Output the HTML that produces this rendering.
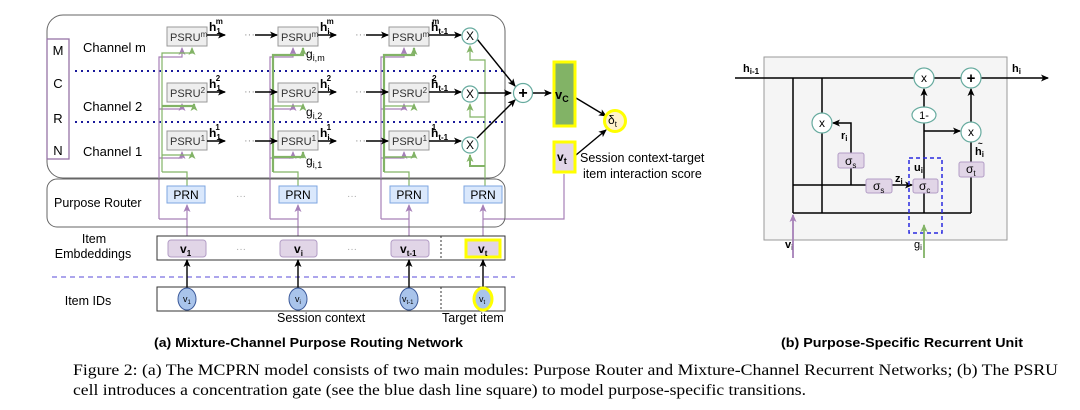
<!DOCTYPE html>
<html><head><meta charset="utf-8"><style>
html,body{margin:0;padding:0;background:#fff;}
svg{display:block;font-family:"Liberation Sans",sans-serif;}
</style></head><body>
<svg width="1080" height="410" viewBox="0 0 1080 410" xmlns="http://www.w3.org/2000/svg">
<defs>
<marker id="ak" markerWidth="8" markerHeight="8" refX="7" refY="4" orient="auto" markerUnits="userSpaceOnUse"><path d="M0,0.5 L8,4 L0,7.5 L2,4z" fill="#000"/></marker>
<marker id="ap" markerWidth="8" markerHeight="8" refX="7" refY="4" orient="auto" markerUnits="userSpaceOnUse"><path d="M0,0.5 L8,4 L0,7.5 L2,4z" fill="#a680b8"/></marker>
<marker id="ag" markerWidth="8" markerHeight="8" refX="7" refY="4" orient="auto" markerUnits="userSpaceOnUse"><path d="M0,0.5 L8,4 L0,7.5 L2,4z" fill="#82b366"/></marker>
</defs>

<!-- (a) main box -->
<rect x="47" y="15" width="458" height="163" rx="16" fill="#fff" stroke="#666" stroke-width="1"/>
<rect x="47" y="39" width="22" height="120" fill="#fff" stroke="#9673a6" stroke-width="1.3"/>
<g font-size="13" text-anchor="middle"><text x="58" y="55">M</text><text x="58" y="88">C</text><text x="58" y="123">R</text><text x="58" y="155">N</text></g>
<g font-size="13"><text x="83" y="52">Channel m</text><text x="83" y="111">Channel 2</text><text x="83" y="156">Channel 1</text></g>
<line x1="75" y1="71" x2="505" y2="71" stroke="#1a1a9a" stroke-width="2" stroke-dasharray="2,4"/>
<line x1="75" y1="122" x2="505" y2="122" stroke="#1a1a9a" stroke-width="2" stroke-dasharray="2,4"/>

<!-- vertical feed lines -->
<g fill="none" stroke-width="1.2">
 <!-- col1 -->
 <path d="M159,219 V57 H182 V48" stroke="#a680b8" marker-end="url(#ap)"/>
 <path d="M159,109 H182 V104" stroke="#a680b8" marker-end="url(#ap)"/>
 <path d="M159,158 H182 V152" stroke="#a680b8" marker-end="url(#ap)"/>
 <path d="M162,172 V53 H192 V48" stroke="#82b366" marker-end="url(#ag)"/>
 <path d="M162,106 H194 V104" stroke="#82b366" stroke-width="2.2" marker-end="url(#ag)"/>
 <path d="M162,155 H192 V152" stroke="#82b366" marker-end="url(#ag)"/>
 <path d="M187,186 V172 H162" stroke="#82b366"/>
 <!-- col2 -->
 <path d="M270,219 V57 H293 V48" stroke="#a680b8" marker-end="url(#ap)"/>
 <path d="M270,109 H293 V104" stroke="#a680b8" marker-end="url(#ap)"/>
 <path d="M270,158 H293 V152" stroke="#a680b8" marker-end="url(#ap)"/>
 <path d="M273,172 V55 H303 V48" stroke="#82b366" stroke-width="2.2" marker-end="url(#ag)"/>
 <path d="M273,106 H303 V104" stroke="#82b366" marker-end="url(#ag)"/>
 <path d="M273,157 H303 V152" stroke="#82b366" stroke-width="2.2" marker-end="url(#ag)"/>
 <path d="M298,186 V172 H273" stroke="#82b366"/>
 <!-- col3 -->
 <path d="M381,219 V57 H404 V48" stroke="#a680b8" marker-end="url(#ap)"/>
 <path d="M381,109 H404 V104" stroke="#a680b8" marker-end="url(#ap)"/>
 <path d="M381,158 H404 V152" stroke="#a680b8" marker-end="url(#ap)"/>
 <path d="M384,172 V55 H414 V48" stroke="#82b366" stroke-width="2.2" marker-end="url(#ag)"/>
 <path d="M384,106 H414 V104" stroke="#82b366" marker-end="url(#ag)"/>
 <path d="M384,157 H414 V152" stroke="#82b366" stroke-width="1.6" marker-end="url(#ag)"/>
 <path d="M409,186 V172 H384" stroke="#82b366"/>
 <!-- col4 -->
 <path d="M485,186 V60 H470 V46" stroke="#82b366" marker-end="url(#ag)"/>
 <path d="M485,117 H470 V104" stroke="#82b366" marker-end="url(#ag)"/>
 <path d="M485,166 H470 V155" stroke="#82b366" stroke-width="2" marker-end="url(#ag)"/>
 <!-- purple from embeddings -->
 <path d="M187,240 V205" stroke="#a680b8" marker-end="url(#ap)"/>
 <path d="M187,219 H159" stroke="#a680b8"/>
 <path d="M298,240 V205" stroke="#a680b8" marker-end="url(#ap)"/>
 <path d="M298,219 H270" stroke="#a680b8"/>
 <path d="M409,240 V205" stroke="#a680b8" marker-end="url(#ap)"/>
 <path d="M409,219 H381" stroke="#a680b8"/>
 <path d="M483,240 V205" stroke="#a680b8" marker-end="url(#ap)"/>
 <path d="M483,219 H564 V174" stroke="#a680b8"/>
</g>

<!-- PSRU boxes -->
<g fill="#eeeeee" stroke="#999" stroke-width="1">
 <rect x="167" y="27" width="40" height="19"/><rect x="278" y="27" width="40" height="19"/><rect x="389" y="27" width="40" height="19"/>
 <rect x="167" y="83" width="40" height="19"/><rect x="278" y="83" width="40" height="19"/><rect x="389" y="83" width="40" height="19"/>
 <rect x="167" y="131" width="40" height="19"/><rect x="278" y="131" width="40" height="19"/><rect x="389" y="131" width="40" height="19"/>
</g>
<g font-size="11" fill="#333">
 <text x="170" y="41">PSRU<tspan font-size="8" dy="-4">m</tspan></text>
 <text x="281" y="41">PSRU<tspan font-size="8" dy="-4">m</tspan></text>
 <text x="392" y="41">PSRU<tspan font-size="8" dy="-4">m</tspan></text>
 <text x="170" y="97">PSRU<tspan font-size="8" dy="-4">2</tspan></text>
 <text x="281" y="97">PSRU<tspan font-size="8" dy="-4">2</tspan></text>
 <text x="392" y="97">PSRU<tspan font-size="8" dy="-4">2</tspan></text>
 <text x="170" y="145">PSRU<tspan font-size="8" dy="-4">1</tspan></text>
 <text x="281" y="145">PSRU<tspan font-size="8" dy="-4">1</tspan></text>
 <text x="392" y="145">PSRU<tspan font-size="8" dy="-4">1</tspan></text>
</g>

<!-- horizontal arrows -->
<g stroke="#000" stroke-width="1.4" fill="none">
 <line x1="207" y1="35" x2="225" y2="35" marker-end="url(#ak)"/><line x1="255" y1="35" x2="277" y2="35" marker-end="url(#ak)"/>
 <line x1="318" y1="35" x2="336" y2="35" marker-end="url(#ak)"/><line x1="366" y1="35" x2="388" y2="35" marker-end="url(#ak)"/>
 <line x1="429" y1="35" x2="461" y2="35" marker-end="url(#ak)"/>
 <line x1="207" y1="92" x2="225" y2="92" marker-end="url(#ak)"/><line x1="255" y1="92" x2="277" y2="92" marker-end="url(#ak)"/>
 <line x1="318" y1="92" x2="336" y2="92" marker-end="url(#ak)"/><line x1="366" y1="92" x2="388" y2="92" marker-end="url(#ak)"/>
 <line x1="429" y1="92" x2="461" y2="92" marker-end="url(#ak)"/>
 <line x1="207" y1="141" x2="225" y2="141" marker-end="url(#ak)"/><line x1="255" y1="141" x2="277" y2="141" marker-end="url(#ak)"/>
 <line x1="318" y1="141" x2="336" y2="141" marker-end="url(#ak)"/><line x1="366" y1="141" x2="388" y2="141" marker-end="url(#ak)"/>
 <line x1="429" y1="141" x2="461" y2="141" marker-end="url(#ak)"/>
 <line x1="477" y1="39" x2="515" y2="86" marker-end="url(#ak)"/>
 <line x1="478" y1="93" x2="511" y2="93" marker-end="url(#ak)"/>
 <line x1="477" y1="138" x2="515" y2="100" marker-end="url(#ak)"/>
 <line x1="533" y1="93" x2="551" y2="93" marker-end="url(#ak)"/>
 <line x1="576" y1="98" x2="606" y2="116" marker-end="url(#ak)"/>
 <line x1="576" y1="155" x2="606" y2="130" marker-end="url(#ak)"/>
</g>
<g font-size="11" fill="#999"><text x="244" y="38">···</text><text x="355" y="38">···</text><text x="244" y="95">···</text><text x="355" y="95">···</text><text x="244" y="144">···</text><text x="355" y="144">···</text></g>

<!-- h labels -->
<g font-size="12" font-weight="bold">
 <text x="209" y="31">h<tspan font-size="8" dy="3">1</tspan><tspan font-size="8" dx="-5" dy="-10">m</tspan></text>
 <text x="320" y="31">h<tspan font-size="8" dy="3">i</tspan><tspan font-size="8" dx="-3" dy="-10">m</tspan></text>
 <text x="431" y="31">h<tspan font-size="8" dy="3">t-1</tspan><tspan font-size="8" dx="-16" dy="-10">m</tspan></text>
 <text x="209" y="88">h<tspan font-size="8" dy="3">1</tspan><tspan font-size="8" dx="-5" dy="-10">2</tspan></text>
 <text x="320" y="88">h<tspan font-size="8" dy="3">i</tspan><tspan font-size="8" dx="-3" dy="-10">2</tspan></text>
 <text x="431" y="88">h<tspan font-size="8" dy="3">t-1</tspan><tspan font-size="8" dx="-16" dy="-10">2</tspan></text>
 <text x="209" y="137">h<tspan font-size="8" dy="3">1</tspan><tspan font-size="8" dx="-5" dy="-10">1</tspan></text>
 <text x="320" y="137">h<tspan font-size="8" dy="3">i</tspan><tspan font-size="8" dx="-3" dy="-10">1</tspan></text>
 <text x="431" y="137">h<tspan font-size="8" dy="3">t-1</tspan><tspan font-size="8" dx="-16" dy="-10">1</tspan></text>
</g>
<g font-size="12"><text x="306" y="58">g<tspan font-size="9" dy="3">i,m</tspan></text><text x="306" y="116">g<tspan font-size="9" dy="3">i,2</tspan></text><text x="306" y="165">g<tspan font-size="9" dy="3">i,1</tspan></text></g>

<!-- X circles and plus -->
<g fill="#fff" stroke="#67ab9f" stroke-width="1.2">
 <circle cx="470" cy="36" r="8"/><circle cx="470" cy="94" r="8"/><circle cx="470" cy="145" r="8"/><circle cx="523" cy="93" r="9.5"/>
</g>
<g font-size="12" text-anchor="middle"><text x="470" y="40">X</text><text x="470" y="98">X</text><text x="470" y="149">X</text><text x="523" y="98" font-size="16" font-weight="bold">+</text></g>

<!-- vC, vt, delta -->
<rect x="554" y="62" width="21" height="64" fill="#82b366" stroke="#ffff00" stroke-width="3"/>
<text x="555" y="99" font-size="13" font-weight="bold">v<tspan font-size="9" dy="3">C</tspan></text>
<rect x="554" y="142" width="21" height="30" fill="#e1d5e7" stroke="#ffff00" stroke-width="3"/>
<text x="557" y="161" font-size="12" font-weight="bold">v<tspan font-size="9" dy="3">t</tspan></text>
<circle cx="615" cy="121" r="10.5" fill="#fff2cc" stroke="#ffff00" stroke-width="3"/>
<text x="608" y="124" font-size="12">δ<tspan font-size="8" dy="3">t</tspan></text>
<g font-size="12.5"><text x="580" y="162">Session context-target</text><text x="583" y="178">item interaction score</text></g>

<!-- Purpose Router -->
<rect x="47" y="179" width="458" height="48" rx="10" fill="none" stroke="#666"/>
<text x="54" y="207" font-size="12.5">Purpose Router</text>
<g fill="#dae8fc" stroke="#7ea6e0"><rect x="167" y="186" width="38" height="17"/><rect x="279" y="186" width="38" height="17"/><rect x="390" y="186" width="38" height="17"/><rect x="464" y="186" width="38" height="17"/></g>
<g font-size="12" text-anchor="middle"><text x="186" y="199">PRN</text><text x="298" y="199">PRN</text><text x="409" y="199">PRN</text><text x="483" y="199">PRN</text></g>
<g font-size="10" fill="#aaa"><text x="236" y="199">···</text><text x="347" y="199">···</text></g>

<!-- Embeddings -->
<g font-size="12.5" text-anchor="middle"><text x="94" y="243">Item</text><text x="93" y="258">Embdeddings</text><text x="88" y="305">Item IDs</text></g>
<rect x="157" y="236" width="348" height="24" fill="#fff" stroke="#333"/>
<line x1="441" y1="236" x2="441" y2="260" stroke="#333" stroke-dasharray="2,2"/>
<g fill="#e1d5e7" stroke="#b39dc6"><rect x="168" y="240" width="38" height="17" rx="3"/><rect x="280" y="240" width="37" height="17" rx="3"/><rect x="391" y="240" width="38" height="17" rx="3"/></g>
<rect x="466" y="240" width="34" height="17" fill="#e1d5e7" stroke="#ffff00" stroke-width="3"/>
<g font-size="12" font-weight="bold"><text x="180" y="253">v<tspan font-size="8" dy="3">1</tspan></text><text x="294" y="253">v<tspan font-size="8" dy="3">i</tspan></text><text x="400" y="253">v<tspan font-size="8" dy="3">t-1</tspan></text><text x="478" y="253">v<tspan font-size="8" dy="3">t</tspan></text></g>
<g font-size="10" fill="#aaa"><text x="236" y="252">···</text><text x="347" y="252">···</text><text x="236" y="303">···</text><text x="347" y="303">···</text></g>
<line x1="52" y1="277" x2="515" y2="277" stroke="#7a6fe0" stroke-width="1.2" stroke-dasharray="5,4"/>
<rect x="157" y="287" width="348" height="24" fill="#fff" stroke="#333"/>
<line x1="441" y1="287" x2="441" y2="311" stroke="#333" stroke-dasharray="2,2"/>
<g stroke="#000" stroke-width="1.4"><line x1="187" y1="289" x2="187" y2="260" marker-end="url(#ak)"/><line x1="298" y1="289" x2="298" y2="260" marker-end="url(#ak)"/><line x1="409" y1="289" x2="409" y2="260" marker-end="url(#ak)"/><line x1="483" y1="289" x2="483" y2="260" marker-end="url(#ak)"/></g>
<g fill="#a9c4eb" stroke="#3c5a9a"><ellipse cx="187" cy="299" rx="9" ry="11"/><ellipse cx="298" cy="299" rx="9" ry="11"/><ellipse cx="409" cy="299" rx="9" ry="11"/></g>
<ellipse cx="483" cy="299" rx="9" ry="11" fill="#a9c4eb" stroke="#ffff00" stroke-width="3"/>
<g font-size="9"><text x="183" y="302">v<tspan font-size="6" dy="2">1</tspan></text><text x="295" y="302">v<tspan font-size="6" dy="2">i</tspan></text><text x="402" y="302">v<tspan font-size="6" dy="2">t-1</tspan></text><text x="479" y="302">v<tspan font-size="6" dy="2">t</tspan></text></g>
<g font-size="12.5"><text x="277" y="322">Session context</text><text x="442" y="322">Target item</text></g>
<text x="154" y="347" font-size="13" font-weight="bold" textLength="309" lengthAdjust="spacingAndGlyphs">(a) Mixture-Channel Purpose Routing Network</text>

<!-- (b) PSRU -->
<rect x="764" y="57" width="243" height="183" fill="#f5f5f5" stroke="#999"/>
<g stroke="#000" stroke-width="1.5" fill="none">
 <line x1="735" y1="78" x2="914" y2="78"/><line x1="934" y1="78" x2="961" y2="78"/><line x1="981" y1="78" x2="1048" y2="78" marker-end="url(#ak)"/>
 <line x1="793" y1="78" x2="793" y2="213"/>
 <line x1="822" y1="78" x2="822" y2="113"/><line x1="822" y1="133" x2="822" y2="213"/>
 <line x1="793" y1="213" x2="971" y2="213"/>
 <line x1="971" y1="213" x2="971" y2="177"/>
 <line x1="971" y1="166" x2="971" y2="140"/>
 <line x1="971" y1="122" x2="971" y2="89" marker-end="url(#ak)"/>
 <line x1="793" y1="185" x2="866" y2="185"/>
 <line x1="892" y1="185" x2="912" y2="185" marker-end="url(#ak)"/>
 <path d="M851,185 V168"/>
 <path d="M851,153 V123 H833" marker-end="url(#ak)"/>
 <line x1="924" y1="213" x2="924" y2="193"/>
 <line x1="924" y1="179" x2="924" y2="123"/>
 <line x1="924" y1="107" x2="924" y2="89" marker-end="url(#ak)"/>
 <line x1="924" y1="131" x2="960" y2="131" marker-end="url(#ak)"/>
</g>
<g fill="#fff" stroke="#67ab9f" stroke-width="1.2"><circle cx="924" cy="78" r="10"/><circle cx="971" cy="78" r="10"/><circle cx="971" cy="132" r="10"/><circle cx="822" cy="123" r="10"/><ellipse cx="924" cy="115" rx="12" ry="8"/></g>
<g font-size="12" text-anchor="middle"><text x="924" y="82">x</text><text x="971" y="83" font-size="15" font-weight="bold">+</text><text x="971" y="136">x</text><text x="822" y="127">x</text><text x="924" y="119" font-size="11">1-</text></g>
<g fill="#e1d5e7" stroke="#b39dc6"><rect x="838" y="153" width="26" height="15" rx="2"/><rect x="866" y="179" width="26" height="14" rx="2"/><rect x="913" y="179" width="25" height="14" rx="2"/><rect x="959" y="162" width="25" height="15" rx="2"/></g>
<g font-size="12"><text x="845" y="165">σ<tspan font-size="8" dy="3">s</tspan></text><text x="873" y="190">σ<tspan font-size="8" dy="3">s</tspan></text><text x="919" y="190">σ<tspan font-size="8" dy="3">c</tspan></text><text x="966" y="173">σ<tspan font-size="8" dy="3">t</tspan></text></g>
<rect x="909" y="158" width="33" height="75" fill="none" stroke="#2a2ae0" stroke-width="1.5" stroke-dasharray="4,3"/>
<g font-size="11" font-weight="bold"><text x="743" y="72">h<tspan font-size="8" dy="2">i-1</tspan></text><text x="1012" y="72">h<tspan font-size="8" dy="2">i</tspan></text><text x="841" y="139">r<tspan font-size="8" dy="2">i</tspan></text><text x="895" y="182">z<tspan font-size="8" dy="2">i</tspan></text><text x="914" y="171">u<tspan font-size="8" dy="2">i</tspan></text><text x="975" y="155">h<tspan font-size="8" dy="2">i</tspan></text><text x="978" y="146" font-size="8">~</text><text x="785" y="248">v<tspan font-size="8" dy="2">i</tspan></text></g>
<text x="914" y="248" font-size="11">g<tspan font-size="8" dy="2">i</tspan></text>
<line x1="793" y1="258" x2="793" y2="215" stroke="#a680b8" stroke-width="1.8" marker-end="url(#ap)"/>
<line x1="924" y1="258" x2="924" y2="225" stroke="#82b366" stroke-width="1.8" marker-end="url(#ag)"/>
<text x="781" y="347" font-size="13" font-weight="bold" textLength="242" lengthAdjust="spacingAndGlyphs">(b) Purpose-Specific Recurrent Unit</text>

<!-- figure caption -->
<g font-family="Liberation Serif, serif" font-size="15.5">
<text x="73" y="375" textLength="985" lengthAdjust="spacingAndGlyphs">Figure 2: (a) The MCPRN model consists of two main modules: Purpose Router and Mixture-Channel Recurrent Networks; (b) The PSRU</text>
<text x="73" y="395" textLength="733" lengthAdjust="spacingAndGlyphs">cell introduces a concentration gate (see the blue dash line square) to model purpose-specific transitions.</text>
</g>
</svg>
</body></html>
